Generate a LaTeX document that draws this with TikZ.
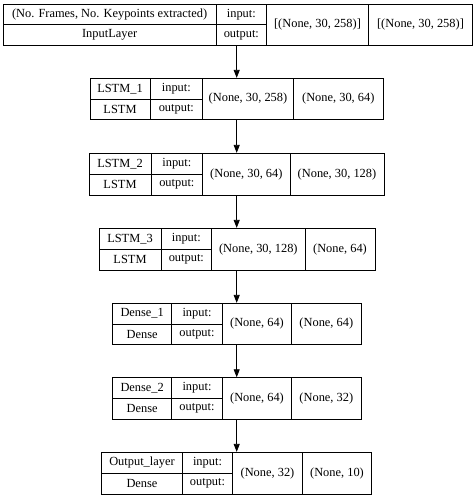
\documentclass[tikz,border=0pt]{standalone}
\usepackage{fontspec}
\setmainfont{Liberation Serif}
\usetikzlibrary{fit,arrows.meta}
\begin{document}
\begin{tikzpicture}[x=1pt,y=-1pt,
  box/.style={draw,line width=0.8pt,inner sep=0pt},
  cell/.style={inner sep=0pt,font=\fontsize{12.4}{14}\selectfont},
  arr/.style={line width=0.8pt,-{Triangle[length=8pt,width=6pt]}}]
\useasboundingbox (0,0) rectangle (474,498);
\foreach \n/\l/\a/\b/\c/\r/\t/\m/\bo/\na/\ty/\vin/\vout in {
1/3.3/216/266.7/368.3/472.7/4.3/24.3/45.7/{(No. Frames, No. Keypoints extracted)}/InputLayer/{[(None, 30, 258)]}/{[(None, 30, 258)]},
2/90/150/202.7/293.3/383.3/78.3/99.3/119.3/LSTM\_1/LSTM/{(None, 30, 258)}/{(None, 30, 64)},
3/89/151/202.7/290/384/153.3/174.3/195/LSTM\_2/LSTM/{(None, 30, 64)}/{(None, 30, 128)},
4/99/161/211.7/305/375/228.3/249.3/270/LSTM\_3/LSTM/{(None, 30, 128)}/{(None, 64)},
5/112.7/171.7/222.3/291.7/361/303.3/324/344.3/Dense\_1/Dense/{(None, 64)}/{(None, 64)},
6/112.7/171.7/222.3/291.7/361/377.7/398.3/419/Dense\_2/Dense/{(None, 64)}/{(None, 32)},
7/101.7/182.3/232.7/302.3/371.7/452.3/473.3/494/Output\_layer/Dense/{(None, 32)}/{(None, 10)}}
{
  \coordinate (A\n) at (\l,\t);
  \coordinate (B\n) at (\r,\bo);
  \node[box,fit=(A\n)(B\n)] (L\n) {};
  \draw[line width=0.8pt] (\a,\t) -- (\a,\bo) (\b,\t) -- (\b,\bo) (\c,\t) -- (\c,\bo) (\l,\m) -- (\b,\m);
  \node[cell] (N\n) at ({(\l+\a)/2},{(\t+\m)/2}) {\na};
  \node[cell] (T\n) at ({(\l+\a)/2},{(\m+\bo)/2}) {\ty};
  \node[cell] (I\n) at ({(\a+\b)/2},{(\t+\m)/2}) {input:};
  \node[cell] (O\n) at ({(\a+\b)/2},{(\m+\bo)/2}) {output:};
  \node[cell] (VI\n) at ({(\b+\c)/2},{(\t+\bo)/2}) {\vin};
  \node[cell] (VO\n) at ({(\c+\r)/2},{(\t+\bo)/2}) {\vout};
}
\coordinate (ax) at (236.7,0);
\foreach \i [count=\j from 2] in {1,...,6}
  \draw[arr] (L\i.south -| ax) -- (L\j.north -| ax);
\end{tikzpicture}
\end{document}
